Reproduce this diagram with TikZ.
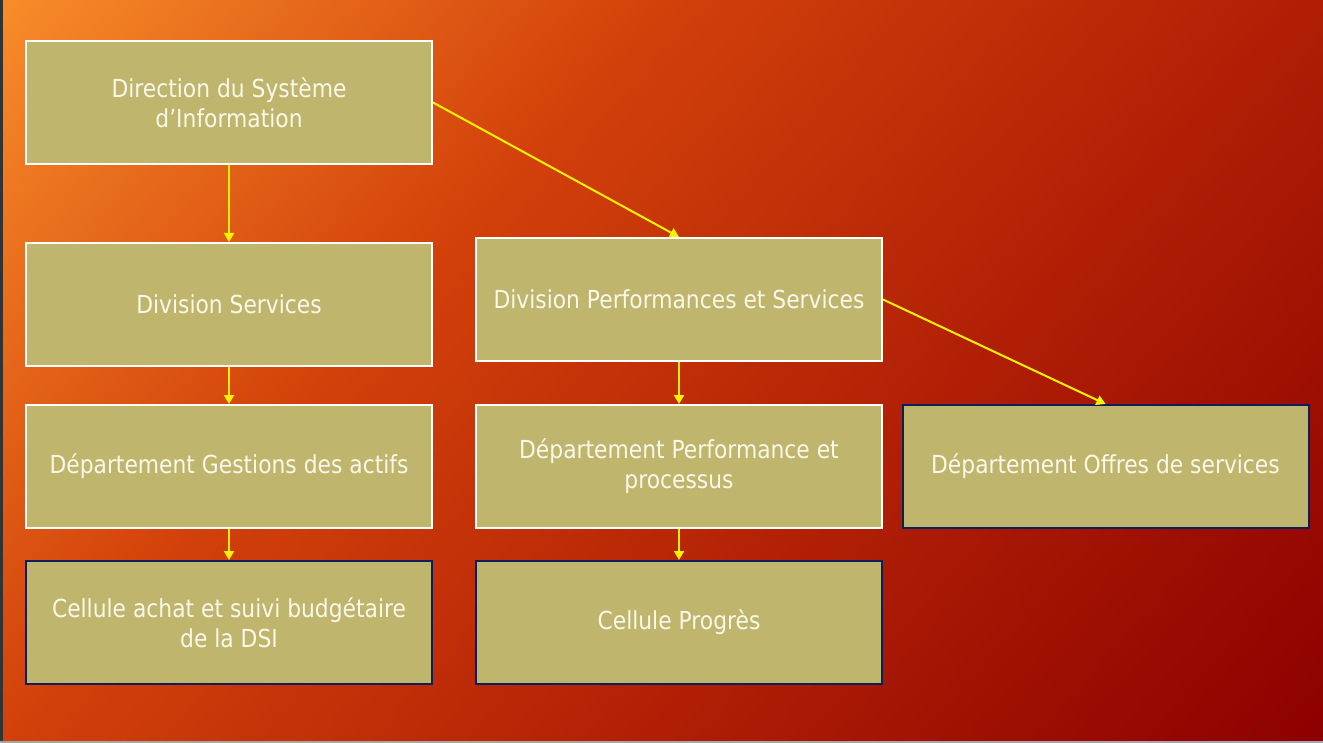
\documentclass[tikz,border=0pt]{standalone}
\usepackage{fontspec}
\setmainfont{DejaVu Sans}[FakeStretch=0.88]
\usepackage{tikz}
\usetikzlibrary{arrows.meta}

\definecolor{boxfill}{RGB}{192,181,108}
\definecolor{boxtext}{RGB}{250,248,235}
\definecolor{navyline}{RGB}{10,32,92}
\definecolor{bgzero}{RGB}{248,140,42}
\definecolor{bgone}{RGB}{210,65,10}
\definecolor{bgtwo}{RGB}{175,30,5}
\definecolor{bgthree}{RGB}{140,0,0}
\pgfdeclarehorizontalshading{bgshade}{1000pt}{color(0pt)=(bgzero); color(10pt)=(bgzero);
  color(256.8pt)=(bgone); color(503.7pt)=(bgtwo); color(750.5pt)=(bgthree); color(770pt)=(bgthree)}

\begin{document}
\begin{tikzpicture}[x=0.5pt,y=-0.5pt]
    % `unit' is a box of the chart, `unitdark' the lower ones with a dark frame.
    % `link' is used for the yellow arrows.
    \tikzstyle{unit} = [draw=white,line width=1pt,fill=boxfill,text=boxtext,
                        minimum width=203pt,minimum height=61.5pt,inner sep=0pt,
                        align=center,font=\fontsize{12.4pt}{15pt}\selectfont]
    \tikzstyle{unitdark} = [unit,draw=navyline]
    \tikzstyle{link} = [draw=yellow,line width=1pt,-{Triangle[width=5pt,length=4.5pt]}]
    %
    % Background.
    \begin{scope}
      \clip (0,0) rectangle (1323,743);
      \begin{scope}[rotate=-41.7]
        \node[inner sep=0pt,outer sep=0pt,anchor=west,transform shape] (bg) at (-20,0)
            {\pgfuseshading{bgshade}};
      \end{scope}
    \end{scope}
    \fill[black!80] (0,0) rectangle (3,743);
    \fill[black!35] (0,741) rectangle (1323,743);
    \useasboundingbox (0,0) rectangle (1323,743);
    %
    \node[unit] (dsi) at (229,102.5) {Direction du Système\\d’Information};
    \node[unit] (divserv) at (229,304.5) {Division Services};
    \node[unit] (divperf) at (679,299.5) {Division Performances et Services};
    \node[unit] (depgest) at (229,466.5) {Département Gestions des actifs};
    \node[unit] (depperf) at (679,466.5) {Département Performance et\\processus};
    \node[unitdark] (depoffr) at (1105.5,466.5) {Département Offres de services};
    \node[unitdark] (celachat) at (229,622.5) {Cellule achat et suivi budgétaire\\de la DSI};
    \node[unitdark] (celprog) at (679,622.5) {Cellule Progrès};
    %
    % Draw arrows.
    \draw[link] (dsi) -- (divserv);
    \draw[link] (dsi.east) -- (divperf.north);
    \draw[link] (divperf.east) -- (depoffr.north);
    \draw[link] (divserv) -- (depgest);
    \draw[link] (divperf) -- (depperf);
    \draw[link] (depgest) -- (celachat);
    \draw[link] (depperf) -- (celprog);
\end{tikzpicture}
\end{document}
